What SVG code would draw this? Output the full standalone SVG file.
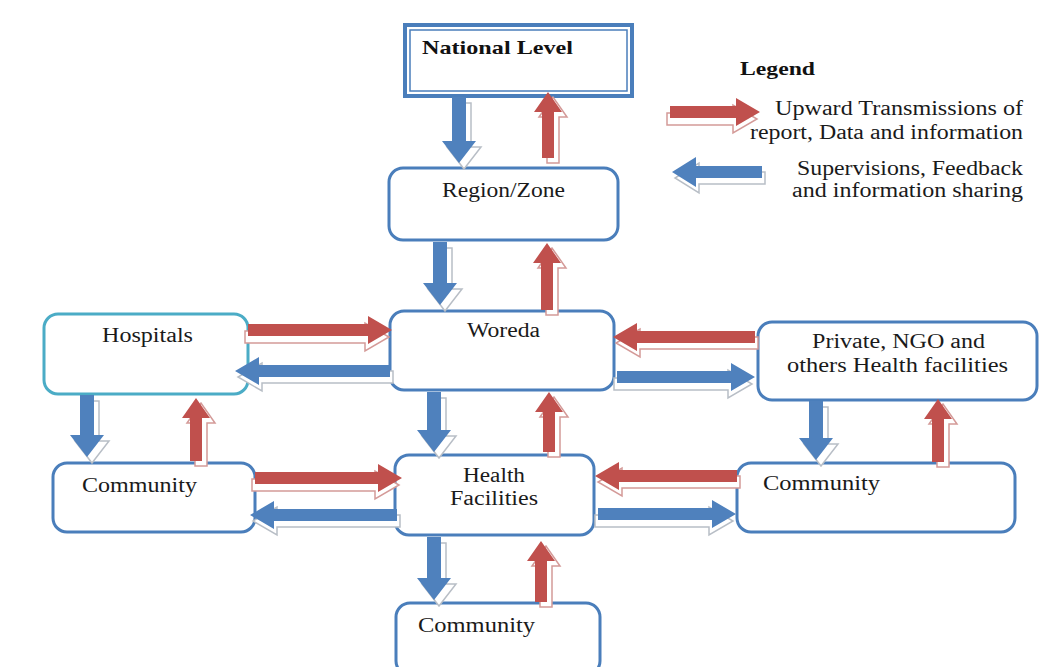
<svg xmlns="http://www.w3.org/2000/svg" xmlns:xlink="http://www.w3.org/1999/xlink" width="1058" height="667" viewBox="0 0 1058 667">
<style>
  .box{fill:#fff;stroke:#4a7ebb;stroke-width:3}
  .hosp{fill:#fff;stroke:#4bacc6;stroke-width:3}
  .t{font-family:"Liberation Serif","Times New Roman",serif;font-size:20px;fill:#1a1a1a}
  .tb{font-family:"Liberation Serif","Times New Roman",serif;font-size:19px;font-weight:bold;fill:#111}
  .b{fill:#4f81bd}
  .r{fill:#c0504d}
  .sb{fill:#fff;stroke:#b8bec6;stroke-width:1.5}
  .sr{fill:#fff;stroke:#d49a98;stroke-width:1.5}
</style>
<defs>
  <polygon id="d1" points="452,97 466,97 466,141 476,141 459,163 442,141 452,141"/>
  <polygon id="d2" points="433,242 447,242 447,283 457,283 440,305 423,283 433,283"/>
  <polygon id="d3" points="427,392 441,392 441,430 451,430 434,452 417,430 427,430"/>
  <polygon id="d4" points="427,537 441,537 441,578 451,578 434,600 417,578 427,578"/>
  <polygon id="d5" points="80,395 94,395 94,435 104,435 87,457 70,435 80,435"/>
  <polygon id="d6" points="809,401 823,401 823,438 833,438 816,460 799,438 809,438"/>
  <polygon id="u1" points="542,158 554,158 554,112 562,112 548,92 534,112 542,112"/>
  <polygon id="u2" points="541,310 553,310 553,263 561,263 547,243 533,263 541,263"/>
  <polygon id="u3" points="543,452 555,452 555,412 563,412 549,392 535,412 543,412"/>
  <polygon id="u4" points="535,602 547,602 547,561 555,561 541,541 527,561 535,561"/>
  <polygon id="u5" points="190,461 202,461 202,418 210,418 196,398 182,418 190,418"/>
  <polygon id="u6" points="932,462 944,462 944,419 952,419 938,399 924,419 932,419"/>
  <polygon id="h1" points="248,324 368,324 368,316 392,330 368,344 368,336 248,336"/>
  <polygon id="h2" points="255,472 378,472 378,464 402,478 378,492 378,484 255,484"/>
  <polygon id="h3" points="390,365 259,365 259,357 235,371 259,385 259,377 390,377"/>
  <polygon id="h4" points="397,509 274,509 274,501 250,515 274,529 274,521 397,521"/>
  <polygon id="h5" points="755,331 637,331 637,323 613,337 637,351 637,343 755,343"/>
  <polygon id="h6" points="737,470 619,470 619,462 595,476 619,490 619,482 737,482"/>
  <polygon id="h7" points="617,371 731,371 731,363 755,377 731,391 731,383 617,383"/>
  <polygon id="h8" points="598,508 712,508 712,500 736,514 712,528 712,520 598,520"/>
  <polygon id="l1" points="670,106 736,106 736,98 760,112 736,126 736,118 670,118"/>
  <polygon id="l2" points="762,166 696,166 696,157 672,172 696,187 696,178 762,178"/>
</defs>
<rect x="0" y="0" width="1058" height="667" fill="#fff"/>

<g id="national">
  <rect x="405" y="25" width="227" height="71" fill="#fff" stroke="#4a7ebb" stroke-width="4"/>
  <rect x="410" y="30" width="217" height="61" fill="none" stroke="#4a7ebb" stroke-width="1.5"/>
  <text class="tb" x="422" y="54" textLength="151" lengthAdjust="spacingAndGlyphs">National Level</text>
</g>
<g id="region">
  <rect class="box" x="389" y="168" width="229" height="72" rx="14"/>
  <text class="t" x="442" y="197" textLength="123" lengthAdjust="spacingAndGlyphs">Region/Zone</text>
</g>
<g id="woreda">
  <rect class="box" x="390" y="311" width="224" height="79" rx="14"/>
  <text class="t" x="467" y="337" textLength="73" lengthAdjust="spacingAndGlyphs">Woreda</text>
</g>
<g id="hospitals">
  <rect class="hosp" x="44" y="314" width="204" height="80" rx="14"/>
  <text class="t" x="102" y="342" textLength="91" lengthAdjust="spacingAndGlyphs">Hospitals</text>
</g>
<g id="community-left">
  <rect class="box" x="53" y="463" width="202" height="69" rx="14"/>
  <text class="t" x="82" y="492" textLength="115" lengthAdjust="spacingAndGlyphs">Community</text>
</g>
<g id="health-facilities">
  <rect class="box" x="395" y="455" width="199" height="80" rx="14"/>
  <text class="t" x="463" y="482" textLength="62" lengthAdjust="spacingAndGlyphs">Health</text>
  <text class="t" x="450" y="505" textLength="88" lengthAdjust="spacingAndGlyphs">Facilities</text>
</g>
<g id="community-bottom">
  <rect class="box" x="396" y="603" width="204" height="72" rx="14"/>
  <text class="t" x="418" y="632" textLength="117" lengthAdjust="spacingAndGlyphs">Community</text>
</g>
<g id="private">
  <rect class="box" x="758" y="322" width="279" height="78" rx="14"/>
  <text class="t" x="812" y="348" textLength="173" lengthAdjust="spacingAndGlyphs">Private, NGO and</text>
  <text class="t" x="787" y="372" textLength="221" lengthAdjust="spacingAndGlyphs">others Health facilities</text>
</g>
<g id="community-right">
  <rect class="box" x="737" y="463" width="278" height="69" rx="14"/>
  <text class="t" x="763" y="490" textLength="117" lengthAdjust="spacingAndGlyphs">Community</text>
</g>

<g id="connectors">
  <use xlink:href="#d1" class="sb" transform="translate(5,6)"/><use xlink:href="#d1" class="b"/>
  <use xlink:href="#d2" class="sb" transform="translate(5,6)"/><use xlink:href="#d2" class="b"/>
  <use xlink:href="#d3" class="sb" transform="translate(5,6)"/><use xlink:href="#d3" class="b"/>
  <use xlink:href="#d4" class="sb" transform="translate(5,6)"/><use xlink:href="#d4" class="b"/>
  <use xlink:href="#d5" class="sb" transform="translate(5,6)"/><use xlink:href="#d5" class="b"/>
  <use xlink:href="#d6" class="sb" transform="translate(5,6)"/><use xlink:href="#d6" class="b"/>
  <use xlink:href="#u1" class="sr" transform="translate(5,5)"/><use xlink:href="#u1" class="r"/>
  <use xlink:href="#u2" class="sr" transform="translate(5,5)"/><use xlink:href="#u2" class="r"/>
  <use xlink:href="#u3" class="sr" transform="translate(5,5)"/><use xlink:href="#u3" class="r"/>
  <use xlink:href="#u4" class="sr" transform="translate(5,5)"/><use xlink:href="#u4" class="r"/>
  <use xlink:href="#u5" class="sr" transform="translate(5,5)"/><use xlink:href="#u5" class="r"/>
  <use xlink:href="#u6" class="sr" transform="translate(5,5)"/><use xlink:href="#u6" class="r"/>
  <use xlink:href="#h1" class="sr" transform="translate(-3,7)"/><use xlink:href="#h1" class="r"/>
  <use xlink:href="#h2" class="sr" transform="translate(-3,7)"/><use xlink:href="#h2" class="r"/>
  <use xlink:href="#h3" class="sb" transform="translate(3,6)"/><use xlink:href="#h3" class="b"/>
  <use xlink:href="#h4" class="sb" transform="translate(3,6)"/><use xlink:href="#h4" class="b"/>
  <use xlink:href="#h5" class="sr" transform="translate(3,6)"/><use xlink:href="#h5" class="r"/>
  <use xlink:href="#h6" class="sr" transform="translate(3,6)"/><use xlink:href="#h6" class="r"/>
  <use xlink:href="#h7" class="sb" transform="translate(-3,7)"/><use xlink:href="#h7" class="b"/>
  <use xlink:href="#h8" class="sb" transform="translate(-3,7)"/><use xlink:href="#h8" class="b"/>
</g>

<g id="legend">
  <text class="tb" x="740" y="75" textLength="75" lengthAdjust="spacingAndGlyphs">Legend</text>
  <use xlink:href="#l1" class="sr" transform="translate(-3,7)"/><use xlink:href="#l1" class="r"/>
  <use xlink:href="#l2" class="sb" transform="translate(3,6)"/><use xlink:href="#l2" class="b"/>
  <text class="t" x="775" y="115" textLength="248" lengthAdjust="spacingAndGlyphs">Upward Transmissions of</text>
  <text class="t" x="750" y="139" textLength="273" lengthAdjust="spacingAndGlyphs">report, Data and information</text>
  <text class="t" x="797" y="175" textLength="226" lengthAdjust="spacingAndGlyphs">Supervisions, Feedback</text>
  <text class="t" x="792" y="197" textLength="231" lengthAdjust="spacingAndGlyphs">and information sharing</text>
</g>
</svg>
